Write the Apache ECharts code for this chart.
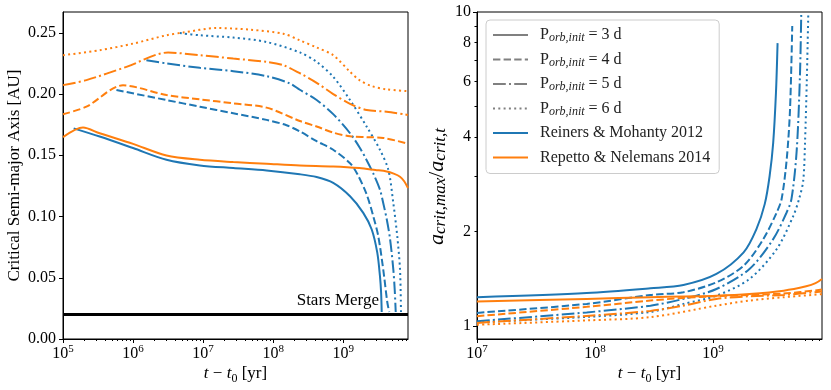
<!DOCTYPE html>
<html lang="en">
<head>
<meta charset="UTF-8">
<title>Critical semi-major axis</title>
<style>html,body{margin:0;padding:0;background:#fff}</style>
</head>
<body>
<div id="main" style="width:831px;height:390px"></div>
<script src="https://cdn.jsdelivr.net/npm/echarts@6/dist/echarts.min.js"></script>
<script>
// ---- left panel: critical semi-major axis [AU] vs t - t0 [yr]
const rmA3 = [[1.42e5,0.172],[3.34e5,0.1653],[1e6,0.1559],[3.0e6,0.1463],[8.97e6,0.1417],[2.69e7,0.1396],[8.05e7,0.1376],[2.40e8,0.1345],[4.17e8,0.1322],[7.19e8,0.1274],[1.25e9,0.1165],[1.93e9,0.103],[2.55e9,0.0894],[3.06e9,0.0705],[3.34e9,0.0515],[3.47e9,0.038],[3.54e9,0.022]];
const rmA4 = [[5.79e5,0.2033],[3.0e6,0.1951],[8.97e6,0.1897],[2.69e7,0.1843],[8.05e7,0.1789],[1.55e8,0.1745],[2.40e8,0.1695],[4.17e8,0.1615],[7.19e8,0.1545],[1.25e9,0.1435],[1.58e9,0.135],[2.16e9,0.118],[2.69e9,0.1],[3.16e9,0.084],[3.72e9,0.0569],[4.26e9,0.0298],[4.54e9,0.022]];
const rmA5 = [[1.55e6,0.2276],[3.0e6,0.225],[8.97e6,0.2214],[2.69e7,0.2187],[8.05e7,0.2146],[1.73e8,0.2087],[2.40e8,0.2035],[4.17e8,0.1951],[7.19e8,0.1836],[1.25e9,0.168],[1.73e9,0.156],[2.16e9,0.146],[2.69e9,0.135],[3.34e9,0.122],[3.72e9,0.111],[4.17e9,0.098],[4.65e9,0.082],[5.18e9,0.057],[5.43e9,0.04],[5.61e9,0.022]];
const rmA6 = [[4.65e6,0.2498],[8.97e6,0.248],[2.69e7,0.2461],[8.05e7,0.2425],[2.40e8,0.234],[4.17e8,0.2263],[7.19e8,0.2141],[1.25e9,0.1951],[2.16e9,0.1734],[3.34e9,0.1545],[4.40e9,0.1382],[5.18e9,0.1111],[5.90e9,0.084],[6.46e9,0.0569],[6.67e9,0.022]];
const rnA3 = [[1e5,0.1648],[1.93e5,0.1726],[3.34e5,0.168],[1e6,0.1593],[3.0e6,0.1498],[8.97e6,0.1463],[2.69e7,0.1445],[8.05e7,0.1431],[2.40e8,0.1417],[7.19e8,0.1409],[1.70e9,0.1396],[2.88e9,0.138],[4.17e9,0.1368],[5.25e9,0.135],[6.46e9,0.1325],[7.41e9,0.1288],[8.4e9,0.1233]];
const rnA4 = [[1e5,0.1835],[2.16e5,0.1897],[7.19e5,0.2071],[3.0e6,0.1992],[8.97e6,0.1957],[2.69e7,0.1924],[8.05e7,0.1889],[2.40e8,0.178],[4.17e8,0.1735],[7.19e8,0.1685],[1.25e9,0.1655],[2.16e9,0.1648],[3.72e9,0.1642],[8.4e9,0.1595]];
const rnA5 = [[1e5,0.2073],[2.16e5,0.2114],[8.05e5,0.2222],[3.16e6,0.2339],[8.97e6,0.2317],[2.69e7,0.229],[8.05e7,0.2263],[1.39e8,0.2236],[2.40e8,0.217],[4.17e8,0.2092],[7.19e8,0.2],[1.25e9,0.192],[2.16e9,0.187],[4.17e9,0.1856],[8.4e9,0.1829]];
const rnA6 = [[1e5,0.2317],[3.34e5,0.2358],[1e6,0.2412],[3.0e6,0.248],[5.18e6,0.2502],[1.55e7,0.2539],[4.65e7,0.2526],[1.39e8,0.2493],[2.40e8,0.2439],[4.17e8,0.238],[7.19e8,0.2317],[1.25e9,0.2182],[1.70e9,0.2114],[2.55e9,0.2065],[4.17e9,0.2038],[8.4e9,0.2024]];
const starsMerge = 0.022;

// ---- right panel: a_crit,max / a_crit,t vs t - t0 [yr]
const rmR3 = [[1e7,1.236],[8.51e7,1.275],[2.95e8,1.32],[5.62e8,1.352],[1.07e9,1.466],[1.82e9,1.718],[2.34e9,2.04],[2.75e9,2.45],[3.02e9,3.0],[3.24e9,3.83],[3.42e9,5.53],[3.53e9,7.96]];
const rmR4 = [[1e7,1.102],[8.51e7,1.177],[2.95e8,1.257],[5.62e8,1.282],[1.07e9,1.379],[1.82e9,1.557],[2.67e9,1.892],[3.47e9,2.3],[3.82e9,2.54],[4.22e9,3.4],[4.50e9,4.89],[4.70e9,9.03]];
const rmR5 = [[1e7,1.037],[8.51e7,1.106],[2.95e8,1.162],[5.62e8,1.221],[1.07e9,1.313],[2.04e9,1.52],[3.24e9,1.892],[4.21e9,2.3],[4.63e9,2.54],[5.12e9,3.6],[5.46e9,6.24],[5.60e9,9.79]];
const rmR6 = [[1e7,1.028],[8.51e7,1.07],[2.95e8,1.11],[5.62e8,1.177],[1.07e9,1.25],[2.04e9,1.413],[3.47e9,1.759],[4.79e9,2.24],[5.37e9,2.54],[5.82e9,2.9],[6.03e9,3.84],[6.24e9,6.0],[6.43e9,9.95]];
const rnR3 = [[1e7,1.197],[8.51e7,1.221],[2.95e8,1.236],[5.62e8,1.243],[1.07e9,1.25],[2.04e9,1.266],[3.98e9,1.297],[6.17e9,1.339],[7.41e9,1.37],[8.4e9,1.413]];
const rnR4 = [[1e7,1.076],[8.51e7,1.152],[2.95e8,1.206],[5.62e8,1.23],[1.07e9,1.245],[3.98e9,1.27],[8.4e9,1.307]];
const rnR5 = [[1e7,1.024],[8.51e7,1.078],[2.95e8,1.118],[5.62e8,1.162],[1.07e9,1.221],[2.04e9,1.245],[3.98e9,1.256],[8.4e9,1.29]];
const rnR6 = [[1e7,1.01],[8.51e7,1.043],[2.95e8,1.068],[1.07e9,1.162],[2.04e9,1.206],[3.98e9,1.236],[8.4e9,1.264]];

// ---- ticks
const tMax = 8.4e9;
const leftDecades = [5, 6, 7, 8, 9];
const rightDecades = [7, 8, 9];
const aTicks = [0, 0.05, 0.1, 0.15, 0.2, 0.25];
const ratioLabels = [1, 2, 4, 6, 8, 10];
const ratioMajor = [1, 10];
const minorSubs = [2, 3, 4, 5, 6, 7, 8, 9];
const ratioMin = 0.91, ratioMax = 10;

const BLUE = '#1f77b4', ORANGE = '#ff7f0e', GRAY = '#808080';
const FONT = "'Liberation Serif', 'DejaVu Serif', serif";
const styles = { p3: 'solid', p4: [7.4, 3.2], p5: [12.8, 3.2, 2, 3.2], p6: [2, 3.3] };

function minorLogs(decades, maxLog) {
    const out = [];
    decades.forEach(d => minorSubs.forEach(k => {
        const v = d + Math.log10(k);
        if (v < maxLog) out.push(v);
    }));
    return out;
}

const supRich = {
    m: { fontSize: 16, lineHeight: 20, fontFamily: FONT, color: '#000' },
    p: { fontSize: 11, lineHeight: 10, verticalAlign: 'top', fontFamily: FONT, color: '#000' }
};
const xNameRich = {
    i: { fontSize: 17, fontStyle: 'italic', fontFamily: FONT, lineHeight: 22, color: '#000' },
    n: { fontSize: 17, fontFamily: FONT, lineHeight: 22, color: '#000' },
    b: { fontSize: 12, fontFamily: FONT, lineHeight: 10, verticalAlign: 'bottom', color: '#000' }
};
const xName = '{i|t}{n| \u2212 }{i|t}{b|0}{n| [yr]}';

function mainLogX(grid, min) {
    return {
        type: 'log', gridIndex: grid, position: 'bottom', min: min, max: tMax,
        axisLine: { show: true, onZero: false, lineStyle: { color: '#000', width: 1 } },
        axisTick: { show: false }, axisLabel: { show: false }, splitLine: { show: false },
        name: xName, nameLocation: 'middle', nameGap: 24,
        nameTextStyle: { rich: xNameRich }
    };
}
function tickX(grid, minLog, major, values, len, labels) {
    return {
        type: 'value', gridIndex: grid, position: 'bottom', min: minLog, max: Math.log10(tMax),
        axisLine: { show: false, onZero: false }, splitLine: { show: false },
        axisTick: { show: true, length: len, customValues: values, lineStyle: { color: '#000' } },
        axisLabel: labels ? {
            show: true, customValues: major, margin: 5,
            formatter: v => '{m|10}{p|' + Math.round(v) + '}', rich: supRich
        } : { show: false }
    };
}
function tickY(grid, values, len, labels) {
    return {
        type: 'value', gridIndex: grid, position: 'left',
        min: Math.log10(ratioMin), max: Math.log10(ratioMax),
        axisLine: { show: false, onZero: false }, splitLine: { show: false },
        axisTick: { show: true, length: len, customValues: values, lineStyle: { color: '#000' } },
        axisLabel: labels ? {
            show: true, customValues: labels, margin: 6, color: '#000',
            fontFamily: FONT, fontSize: 16,
            formatter: v => String(Math.round(Math.pow(10, v)))
        } : { show: false }
    };
}

function curve(data, color, key, xi, yi) {
    return {
        type: 'line', data: data, xAxisIndex: xi, yAxisIndex: yi,
        symbol: 'none', showSymbol: false, smooth: 0.3, silent: true,
        lineStyle: { color: color, width: 2, type: styles[key] },
        itemStyle: { color: color }
    };
}
function legendProxy(name, color, key) {
    return {
        type: 'line', name: name, data: [], xAxisIndex: 3, yAxisIndex: 1, symbol: 'none',
        lineStyle: { color: color, width: 2, type: styles[key] },
        itemStyle: { color: color, opacity: 0 }
    };
}

const legendNames = {
    p3: 'P{s|orb,init} = 3 d',
    p4: 'P{s|orb,init} = 4 d',
    p5: 'P{s|orb,init} = 5 d',
    p6: 'P{s|orb,init} = 6 d',
    rm: 'Reiners & Mohanty 2012',
    rn: 'Repetto & Nelemans 2014'
};

const chart = echarts.init(document.getElementById('main'));

const merged = curve(rmA3, BLUE, 'p3', 0, 0);
merged.markLine = {
    silent: true, symbol: ['none', 'none'], animation: false,
    lineStyle: { color: '#000', width: 3, type: 'solid' },
    label: {
        show: true, position: 'insideEndTop', formatter: 'Stars Merge',
        color: '#000', fontFamily: FONT, fontSize: 17, padding: [0, 24, 0, 0]
    },
    data: [{ yAxis: starsMerge }]
};

const option = {
    animation: false,
    textStyle: { fontFamily: FONT },
    grid: [
        { left: 63, top: 12, width: 345, height: 328, show: true, borderColor: '#000', borderWidth: 1, backgroundColor: 'transparent' },
        { left: 477, top: 12, width: 345, height: 328, show: true, borderColor: '#000', borderWidth: 1, backgroundColor: 'transparent' }
    ],
    legend: {
        left: 486, top: 20, orient: 'vertical',
        data: ['p3', 'p4', 'p5', 'p6', 'rm', 'rn'],
        itemWidth: 35, itemHeight: 14, itemGap: 6.5,
        padding: [6, 9, 7, 6],
        borderColor: '#cccccc', borderWidth: 1, borderRadius: 4,
        backgroundColor: 'rgba(255,255,255,0.8)',
        selectedMode: false,
        itemStyle: { opacity: 0 },
        formatter: name => legendNames[name],
        textStyle: {
            fontFamily: FONT, fontSize: 16, color: '#222', lineHeight: 18, padding: [0, 0, 0, 7],
            rich: { s: { fontSize: 12, fontStyle: 'italic', lineHeight: 8, verticalAlign: 'bottom', fontFamily: FONT, color: '#222' } }
        }
    },
    xAxis: [
        mainLogX(0, 1e5),
        tickX(0, 5, leftDecades, leftDecades, 4, true),
        tickX(0, 5, [], minorLogs(leftDecades, Math.log10(tMax)), 2, false),
        mainLogX(1, 1e7),
        tickX(1, 7, rightDecades, rightDecades, 4, true),
        tickX(1, 7, [], minorLogs(rightDecades, Math.log10(tMax)), 2, false)
    ],
    yAxis: [
        {
            type: 'value', gridIndex: 0, position: 'left', min: 0, max: 0.267,
            axisLine: { show: true, onZero: false, lineStyle: { color: '#000' } },
            splitLine: { show: false },
            axisTick: { show: true, length: 4, customValues: aTicks, lineStyle: { color: '#000' } },
            axisLabel: { customValues: aTicks, formatter: v => v.toFixed(2), margin: 7, color: '#000', fontFamily: FONT, fontSize: 16 },
            name: 'Critical Semi-major Axis [AU]', nameLocation: 'middle', nameGap: 40,
            nameTextStyle: { fontFamily: FONT, fontSize: 17, color: '#000' }
        },
        {
            type: 'log', gridIndex: 1, position: 'left', min: ratioMin, max: ratioMax,
            axisLine: { show: true, onZero: false, lineStyle: { color: '#000' } },
            axisTick: { show: false }, axisLabel: { show: false }, splitLine: { show: false },
            name: '{a|a}{s|crit,max}{n|/}{a|a}{s|crit,t}', nameLocation: 'middle', nameGap: 28,
            nameTextStyle: {
                padding: [0, 22, 0, 0],
                rich: {
                    a: { fontSize: 22, fontStyle: 'italic', fontFamily: FONT, lineHeight: 24, color: '#000' },
                    n: { fontSize: 22, fontFamily: FONT, lineHeight: 24, color: '#000' },
                    s: { fontSize: 17, fontStyle: 'italic', fontFamily: FONT, lineHeight: 10, verticalAlign: 'bottom', color: '#000' }
                }
            }
        },
        tickY(1, ratioMajor.map(Math.log10), 4, ratioLabels.map(Math.log10)),
        tickY(1, minorSubs.map(Math.log10), 2.5, null)
    ],
    series: [
        merged,
        curve(rmA4, BLUE, 'p4', 0, 0),
        curve(rmA5, BLUE, 'p5', 0, 0),
        curve(rmA6, BLUE, 'p6', 0, 0),
        curve(rnA3, ORANGE, 'p3', 0, 0),
        curve(rnA4, ORANGE, 'p4', 0, 0),
        curve(rnA5, ORANGE, 'p5', 0, 0),
        curve(rnA6, ORANGE, 'p6', 0, 0),
        curve(rmR3, BLUE, 'p3', 3, 1),
        curve(rmR4, BLUE, 'p4', 3, 1),
        curve(rmR5, BLUE, 'p5', 3, 1),
        curve(rmR6, BLUE, 'p6', 3, 1),
        curve(rnR3, ORANGE, 'p3', 3, 1),
        curve(rnR4, ORANGE, 'p4', 3, 1),
        curve(rnR5, ORANGE, 'p5', 3, 1),
        curve(rnR6, ORANGE, 'p6', 3, 1),
        legendProxy('p3', GRAY, 'p3'),
        legendProxy('p4', GRAY, 'p4'),
        legendProxy('p5', GRAY, 'p5'),
        legendProxy('p6', GRAY, 'p6'),
        legendProxy('rm', BLUE, 'p3'),
        legendProxy('rn', ORANGE, 'p3')
    ]
};

chart.setOption(option);
</script>
</body>
</html>
